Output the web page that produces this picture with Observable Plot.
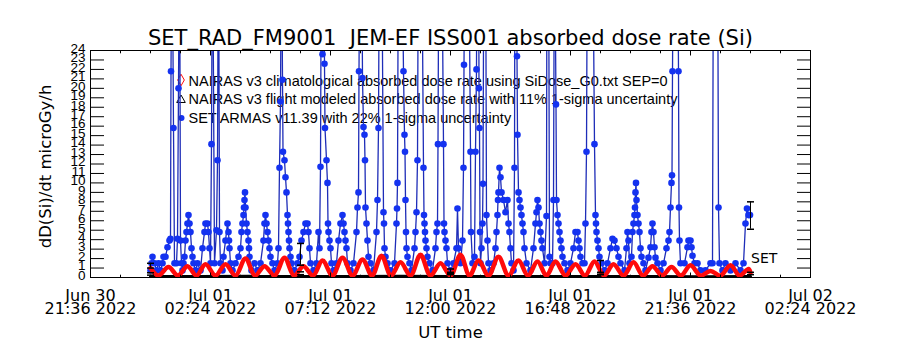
<!DOCTYPE html>
<html><head><meta charset="utf-8">
<script src="https://cdn.jsdelivr.net/npm/d3@7"></script>
<script src="https://cdn.jsdelivr.net/npm/@observablehq/plot@0.6"></script>
<style>body{margin:0;background:#fff} svg{display:block}</style>
</head><body><div id="chart"></div>
<script>
// ---- data (hours since 2022-07-01 00:00 UT) ----
const setHour = [
0.00,0.04,0.08,0.16,0.24,0.32,0.40,0.48,0.52,0.60,0.68,0.76,
0.80,0.82,0.86,0.92,0.96,1.04,1.08,1.12,1.16,1.20,1.24,
1.28,1.32,1.36,1.40,1.44,1.48,1.52,1.56,1.60,1.64,1.68,1.72,1.80,1.88,2.00,
2.08,2.16,2.20,2.28,2.32,2.36,2.40,
2.44,2.48,2.56,2.64,2.68,2.72,2.76,2.80,
2.88,2.92,3.00,3.08,3.12,3.14,3.16,3.20,3.28,3.40,
3.52,3.60,3.64,3.68,3.72,3.74,3.76,3.78,3.80,3.84,3.88,3.92,3.94,3.96,4.04,4.16,4.28,4.40,
4.52,4.56,4.60,4.64,4.68,4.72,4.76,4.80,4.88,4.96,
5.08,5.12,5.16,5.20,5.24,5.28,5.30,5.36,5.40,5.44,5.48,5.50,5.52,5.54,5.56,5.60,5.64,5.76,5.88,
5.96,6.04,6.12,6.20,6.28,6.32,6.36,6.40,6.52,6.64,6.72,6.76,
6.80,6.84,6.88,6.92,6.96,6.98,7.04,7.08,7.10,7.12,7.16,7.20,7.24,7.32,
7.44,7.52,7.60,7.68,7.72,7.76,7.80,7.84,7.88,8.00,
8.12,8.24,8.28,8.32,8.34,8.38,8.44,8.48,8.52,8.56,8.58,8.60,8.64,8.68,8.72,8.80,
8.92,9.04,9.08,9.12,9.16,9.24,9.32,9.34,9.36,9.40,9.48,
9.60,9.76,9.84,9.86,9.88,9.92,10.04,10.12,10.16,10.18,10.20,10.22,10.24,10.28,10.36,
10.44,10.56,10.60,10.64,10.68,10.72,10.84,10.92,10.94,10.96,10.98,11.00,11.04,11.08,11.16,
11.28,11.40,11.44,11.48,11.50,11.54,11.64,11.72,11.74,11.76,11.80,11.84,11.88,12.00,
12.12,12.24,12.28,12.32,12.40,12.48,12.52,12.54,12.58,12.72,12.80,12.82,12.88,12.96,13.00,13.04,13.06,13.12,13.14,13.16,13.18,13.20,
13.24,13.28,13.30,13.34,13.40,13.44,13.48,13.52,13.60,
13.72,13.80,13.84,13.88,13.90,13.92,13.96,14.00,14.04,14.12,14.20,14.28,14.32,14.36,14.40,14.44,
14.52,14.56,14.58,14.64,14.66,14.68,14.72,14.76,14.80,14.84,14.88,14.92,14.96,15.04,
15.20,15.32,15.40,15.44,15.48,15.52,15.56,15.60,15.64,15.68,15.76,15.84,15.86,15.92,15.96,16.00,
16.08,16.12,16.16,16.22,16.24,16.28,16.32,16.36,16.40,16.44,16.48,16.56,16.68,
16.80,16.92,17.00,17.08,17.12,17.16,17.20,17.28,
17.36,17.40,17.44,17.48,17.68,17.76,17.80,17.82,17.84,17.88,17.92,17.96,18.04,18.16,
18.28,18.40,18.48,18.56,18.64,18.72,18.80,
18.96,19.04,19.08,19.12,19.16,
19.24,19.28,19.32,19.36,19.38,19.40,19.42,19.44,19.48,19.52,19.56,19.60,19.64,19.72,
19.80,19.92,20.00,20.04,20.08,20.12,20.16,20.20,20.28,20.40,
20.52,20.64,20.72,20.76,20.80,20.84,20.86,20.88,20.92,21.08,21.12,21.14,21.16,21.20,
21.36,21.48,21.52,21.60,21.64,21.68,21.76,21.88,22.00,
22.20,22.40,22.48,22.52,22.68,22.72,22.76,22.88,
23.00,23.20,23.40,23.60,
23.72,23.80,23.86,23.92,23.98
];
const setDose = [
0.75,1.5,2.2,1.5,0.75,1.5,0.75,1.5,2.2,2.2,3.2,3.9,
4.1,21.8,40,15.8,1.5,1.5,4.1,20,40,3.9,1.5,
0.75,1.5,2.2,3.9,4.8,5.7,6.6,5.7,4.8,3.1,2.2,1.5,0.75,1.5,0.75,
3.1,4.8,5.7,5.7,4.8,3.1,1.5,
14.1,40,1.5,5.0,12.4,40,4.8,1.5,
0.75,2.2,3.9,5.7,4.8,3.9,3.1,1.5,0.75,1.5,
2.2,3.1,4.8,5.7,6.6,7.4,8.2,9.0,7.4,5.7,4.8,3.9,3.1,2.2,0.75,1.5,0.75,1.5,
3.9,5.7,6.6,5.7,4.8,3.9,3.1,2.2,1.5,0.75,
1.5,3.1,11.6,18.6,40,20.9,13.3,12.4,10.6,9.0,6.6,5.7,4.8,3.9,3.1,2.2,1.5,0.75,1.5,
2.2,3.9,4.8,5.7,5.7,4.8,3.1,1.5,0.75,1.5,4.8,3.1,
11.7,40,23.6,40,22.6,15.8,12.4,10.0,5.7,4.8,3.9,3.1,1.5,0.75,
1.5,3.9,5.7,6.6,5.7,4.8,3.9,3.1,1.5,0.75,
1.5,4.8,7.4,9.0,21.8,40,40,21.1,15.9,15.1,12.4,7.4,5.7,3.9,2.2,1.5,
0.75,4.8,8.2,15.8,40,40,6.9,5.7,3.1,2.2,1.5,
0.75,1.5,5.7,7.3,10,40,40,21.8,15.1,13.3,8.2,4.8,3.1,2.2,1.5,
0.75,3.1,4.8,6.9,12.4,40,40,11.6,6.6,5.7,4.8,3.9,3.1,2.2,1.5,
0.75,3.1,4.8,5.7,14.1,40,40,14.1,5.7,4.8,3.9,3.1,1.5,0.75,
1.5,3.1,7.3,3.1,1.5,3.9,11.6,22.5,40,40,13.3,4.8,1.5,2.2,13.3,22,40,40,20,15.8,4.8,1.5,
3.1,5.7,9.9,40,40,6.6,3.9,1.5,0.75,
1.5,3.1,4.8,6.6,8.2,9.0,11.6,10.6,9.0,8.2,6.9,8.2,5.7,4.8,3.1,1.5,
0.75,11.6,40,40,23.4,15.1,9.0,8.2,7.4,6.6,5.7,4.8,3.1,1.5,
0.75,3.1,5.7,6.9,8.2,7.4,5.7,4.8,3.9,3.1,1.5,6.5,40,40,2.2,1.5,
1.5,8.2,40,18.3,8.2,6.6,5.7,4.8,3.9,3.1,2.2,1.5,0.75,
1.5,3.1,4.8,4.8,3.9,3.1,2.2,1.5,
1.5,5.7,13.3,40,40,14.1,6.6,5.7,4.8,3.9,3.1,2.2,1.5,0.75,
1.5,3.1,4.1,3.9,3.1,2.2,1.5,
0.75,3.1,4.8,3.9,1.5,
2.2,4.8,5.7,6.6,7.4,9.0,10.0,8.2,6.6,5.7,4.8,3.1,2.2,1.5,
0.75,2.1,3.2,4.8,5.7,4.8,3.2,2.1,1.5,0.75,
1.5,3.1,3.9,4.8,7.4,10.0,10.8,21.8,40,40,21.8,7.4,3.9,1.5,
1.5,3.2,3.9,3.9,3.2,2.3,1.5,1.5,0.75,
0.75,1.5,1.5,40,40,7.4,1.5,0.75,
1.5,0.75,1.5,0.75,
1.5,5.7,7.3,6.6,6.6
];
const nairasHour = [0,0.32,0.72,1.10,1.48,1.84,2.20,2.60,3.00,3.40,3.80,4.18,4.56,4.96,5.36,5.74,6.12,6.50,6.88,7.28,
7.68,8.08,8.48,8.86,9.24,9.62,10.00,10.40,10.80,11.20,11.60,12.00,12.40,12.76,13.12,13.52,13.92,14.32,14.72,15.10,
15.48,15.84,16.20,16.60,17.00,17.38,17.76,18.14,18.52,18.92,19.32,19.70,20.08,20.46,20.84,21.22,21.60,22.00,22.40,22.80,
23.20,23.56,23.92,24.00];
const nairasDose = [1.0,0.2,1.1,0.2,1.2,0.2,1.4,0.2,1.4,0.2,2.0,0.2,1.2,0.2,2.1,0.2,1.2,0.2,1.8,0.2,
2.1,0.2,1.9,0.2,2.3,0.2,1.6,0.2,2.4,0.2,1.5,0.2,2.4,0.2,1.8,0.2,2.2,0.2,1.8,0.2,
1.7,0.2,1.7,0.2,1.4,0.2,1.7,0.2,1.4,0.2,1.6,0.2,1.2,0.2,1.1,0.2,1.3,0.2,0.7,0.2,
1.3,0.2,0.9,0.5];
const flightHour = [0,2,4,6,8,10,12,14,16,18,20,22,24];
const flightDose = [0.1,0.1,0.12,0.1,0.1,0.12,0.1,0.1,0.1,0.1,0.1,0.08,0.1];
const errHour = [0,6,12,18,24];
const setErrLow = [1.0,1.3,0.4,0.5,5.1];
const setErrHigh = [1.5,3.6,0.9,1.8,8.0];
const flightErrLow = [0.25,0.3,0.3,0.3,0.3];
const flightErrHigh = [0.5,0.6,0.55,0.55,0.55];
const xTickDates = ["2022-06-30T21:36Z","2022-07-01T02:24Z","2022-07-01T07:12Z","2022-07-01T12:00Z","2022-07-01T16:48Z","2022-07-01T21:36Z","2022-07-02T02:24Z"];
const xTickLabels = ["Jun 30\n21:36 2022","Jul 01\n02:24 2022","Jul 01\n07:12 2022","Jul 01\n12:00 2022","Jul 01\n16:48 2022","Jul 01\n21:36 2022","Jul 02\n02:24 2022"];
const yTickValues = [0,1,2,3,4,5,6,7,8,9,10,11,12,13,14,15,16,17,18,19,20,21,22,23,24];
const legendLabels = [
  "NAIRAS v3 climatological absorbed dose rate using SiDose_G0.txt SEP=0",
  "NAIRAS v3 flight modeled absorbed dose rate with 11% 1-sigma uncertainty",
  "SET ARMAS v11.39 with 22% 1-sigma uncertainty"
];
const titleText = "SET_RAD_FM9001  JEM-EF ISS001 absorbed dose rate (Si)";
const yTitle = "dD(Si)/dt microGy/h";
const xTitle = "UT time";

// ---- build tables ----
const t0 = Date.UTC(2022, 6, 1, 0, 0);
const toDate = h => new Date(t0 + h * 3600e3);
const setData = setHour.map((h, i) => ({t: toDate(h), v: setDose[i]}));
const nairasData = nairasHour.map((h, i) => ({t: toDate(h), v: nairasDose[i]}));
const flightData = flightHour.map((h, i) => ({t: toDate(h), v: flightDose[i]}));
const errData = errHour.map((h, i) => ({t: toDate(h), lo: setErrLow[i], hi: setErrHigh[i], flo: flightErrLow[i], fhi: flightErrHigh[i]}));
const majorDates = xTickDates.map(s => new Date(s));
const labelMap = new Map(majorDates.map((d, i) => [+d, xTickLabels[i]]));
const x0 = +majorDates[0], x1 = +majorDates[majorDates.length - 1];
const minorDates = d3.range(0, 25).map(k => new Date(x0 + k * (x1 - x0) / 24));

const capSymbol = {draw(ctx, size) { const w = Math.sqrt(size / Math.PI); ctx.moveTo(-w, 0); ctx.lineTo(w, 0); }};

const BLUE_LINE = "#1e2db8", BLUE_DOT = "#1432f0", RED = "#ff0a0a";

const chart = Plot.plot({
  width: 900, height: 350,
  marginTop: 50, marginBottom: 73, marginLeft: 90, marginRight: 90,
  style: {fontFamily: "DejaVu Sans", fontSize: "16px", background: "white", color: "black"},
  x: {type: "utc", domain: [majorDates[0], majorDates[majorDates.length - 1]]},
  y: {domain: [0, 24]},
  marks: [
    // legend (drawn under the data lines, as in the original)
    ...legendLabels.map((s, i) => Plot.text([s], {text: d => d, frameAnchor: "top-left", dx: 98, dy: 30.5 + i * 18.5,
      textAnchor: "start", lineAnchor: "middle", fontSize: 14.5, fontFamily: "Liberation Sans", fill: "black"})),
    Plot.dot([0], {frameAnchor: "top-left", dx: 90.5, dy: 29.5, symbol: "diamond", r: 3.5, stroke: RED, fill: "none", strokeWidth: 1}),
    Plot.dot([0], {frameAnchor: "top-left", dx: 90.5, dy: 49.5, symbol: "triangle", r: 3.2, stroke: "black", fill: "none", strokeWidth: 1}),
    Plot.dot([0], {frameAnchor: "top-left", dx: 91, dy: 67.5, r: 3, fill: BLUE_DOT}),
    // data
    Plot.line(flightData, {x: "t", y: "v", stroke: "black", strokeWidth: 3, clip: true}),
    Plot.line(setData, {x: "t", y: "v", stroke: BLUE_LINE, strokeWidth: 1.3, clip: true}),
    Plot.dot(setData, {x: "t", y: "v", r: 3.3, fill: BLUE_DOT, clip: true}),
    Plot.line(nairasData, {x: "t", y: "v", stroke: RED, strokeWidth: 4.5, curve: "catmull-rom", clip: true}),
    Plot.ruleX(errData, {x: "t", y1: "lo", y2: "hi", stroke: "black", strokeWidth: 1}),
    Plot.dot(errData, {x: "t", y: "lo", symbol: capSymbol, r: 3.5, stroke: "black", fill: "none"}),
    Plot.dot(errData, {x: "t", y: "hi", symbol: capSymbol, r: 3.5, stroke: "black", fill: "none"}),
    Plot.dot(errData, {x: "t", y: "flo", symbol: capSymbol, r: 3.5, stroke: "black", fill: "none"}),
    Plot.dot(errData, {x: "t", y: "fhi", symbol: capSymbol, r: 3.5, stroke: "black", fill: "none"}),
    Plot.text([{t: toDate(24.02), v: 2.0}], {x: "t", y: "v", text: () => "SET", textAnchor: "start", lineAnchor: "middle", fontSize: 14, fill: "black"}),
    // frame and axes
    Plot.frame({stroke: "black"}),
    Plot.axisY(yTickValues, {anchor: "left", tickSize: -14, fill: "none", label: null}),
    Plot.axisY(yTickValues, {anchor: "right", tickSize: -14, fill: "none", label: null}),
    Plot.axisY(yTickValues, {anchor: "left", tickSize: 0, tickPadding: 5, fontSize: 13.5, fontFamily: "Liberation Sans", dy: -2, label: null}),
    Plot.axisX(majorDates, {anchor: "bottom", tickSize: -4.5, fill: "none", label: null}),
    Plot.axisX(majorDates, {anchor: "top", tickSize: -4.5, fill: "none", label: null}),
    Plot.axisX(minorDates, {anchor: "bottom", tickSize: -2.3, fill: "none", label: null}),
    Plot.axisX(minorDates, {anchor: "top", tickSize: -2.3, fill: "none", label: null}),
    Plot.axisX(majorDates, {anchor: "bottom", tickSize: 0, tickPadding: 15, tickFormat: d => labelMap.get(+d), lineHeight: 0.78, fontSize: 16, label: null}),
    // titles
    Plot.text([titleText], {text: d => d, frameAnchor: "top", dy: -12, lineAnchor: "middle", fontSize: 21, fill: "black"}),
    Plot.text([xTitle], {text: d => d, frameAnchor: "bottom", dy: 55, lineAnchor: "middle", fontSize: 16.5, fill: "black"})
  ]
});
// y title as rotated text outside the plotting frame
const svg = d3.select(chart);
svg.append("text")
  .attr("transform", `translate(46,${(50 + 277) / 2 + 3}) rotate(-90)`)
  .attr("text-anchor", "middle").attr("dominant-baseline", "middle")
  .attr("font-family", "DejaVu Sans").attr("font-size", 16.5).attr("fill", "black")
  .text(yTitle);
document.getElementById("chart").appendChild(chart);
</script>
</body></html>
